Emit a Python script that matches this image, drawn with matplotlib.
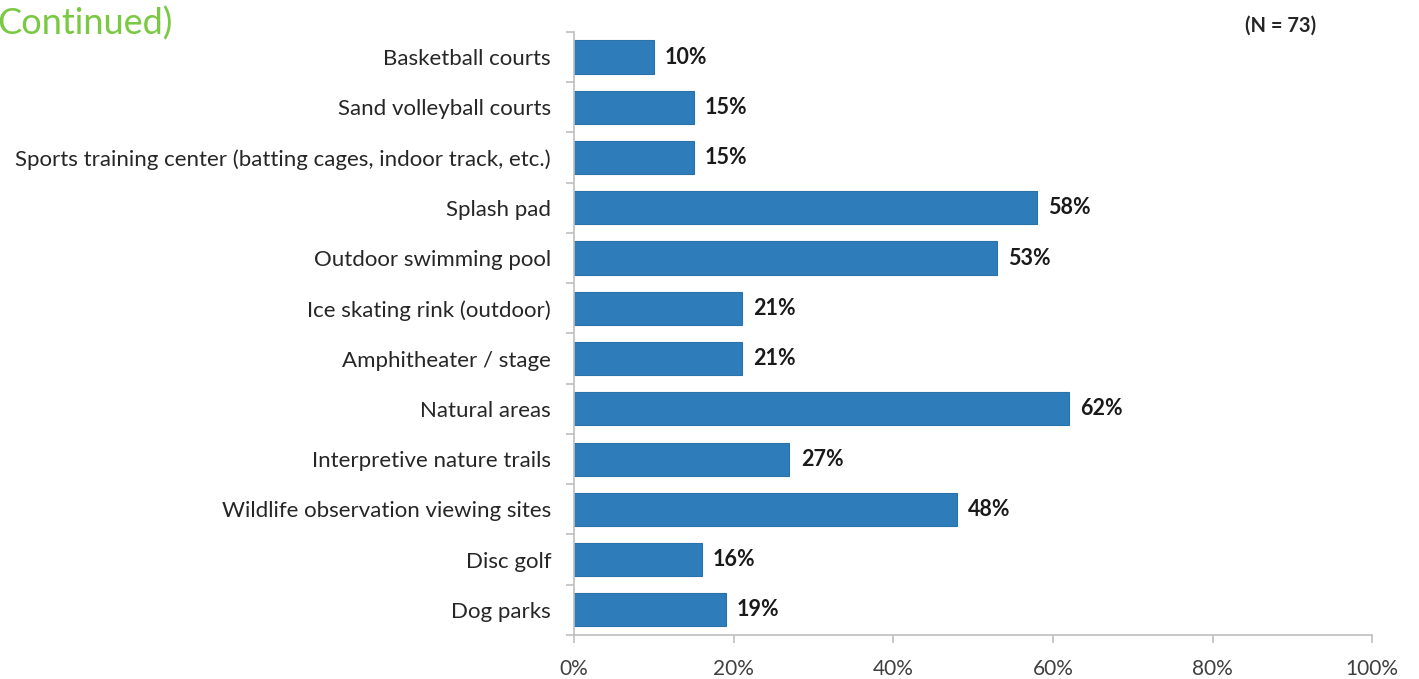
import matplotlib.pyplot as plt
from matplotlib.ticker import FuncFormatter, FixedLocator

plt.rcParams['font.family'] = ['Lato', 'DejaVu Sans']

categories = ["Basketball courts", "Sand volleyball courts",
              "Sports training center (batting cages, indoor track, etc.)",
              "Splash pad", "Outdoor swimming pool", "Ice skating rink (outdoor)",
              "Amphitheater / stage", "Natural areas", "Interpretive nature trails",
              "Wildlife observation viewing sites", "Disc golf", "Dog parks"]
values = [10, 15, 15, 58, 53, 21, 21, 62, 27, 48, 16, 19]
x_ticks = [0, 20, 40, 60, 80, 100]

fig = plt.figure(figsize=(14.19, 6.79), dpi=100)
ax = fig.add_axes([0.4045, 0.0648, 0.5625, 0.8882])

pos = list(range(len(categories)))
ax.barh(pos, values, height=0.66, color='#2E7DBA', edgecolor='#2A72AA', linewidth=0.8)
for p, v in zip(pos, values):
    ax.text(v + 1.4, p, f"{v}%", va='center', ha='left', fontsize=15.5,
            fontweight='bold', color='#1a1a1a')

ax.set_xlim(0, 100)
ax.set_ylim(len(categories) - 0.5, -0.5)
ax.set_xticks(x_ticks)
ax.xaxis.set_major_formatter(FuncFormatter(lambda v, _: f"{int(v)}%"))
ax.set_yticks(pos)
ax.set_yticklabels(categories)
ax.yaxis.set_minor_locator(FixedLocator([p - 0.5 for p in range(len(categories) + 1)]))
ax.tick_params(axis='y', which='major', length=0, pad=16.5, labelsize=16, labelcolor='#262626')
ax.tick_params(axis='y', which='minor', length=6, color='#BFBFBF', width=1.2)
ax.tick_params(axis='x', length=6, color='#BFBFBF', width=1.2, pad=11,
               labelsize=15, labelcolor='#404040')

for side in ['top', 'right']:
    ax.spines[side].set_visible(False)
for side in ['left', 'bottom']:
    ax.spines[side].set_color('#BFBFBF')
    ax.spines[side].set_linewidth(1.2)

fig.text(-0.002, 0.99, "Continued)", color='#7AC943', fontsize=26,
         ha='left', va='top')
fig.text(0.9025, 0.962, "(N = 73)", fontsize=14.5, fontweight='bold',
         ha='center', va='center', color='#262626')

fig.savefig("out.png", dpi=100)
